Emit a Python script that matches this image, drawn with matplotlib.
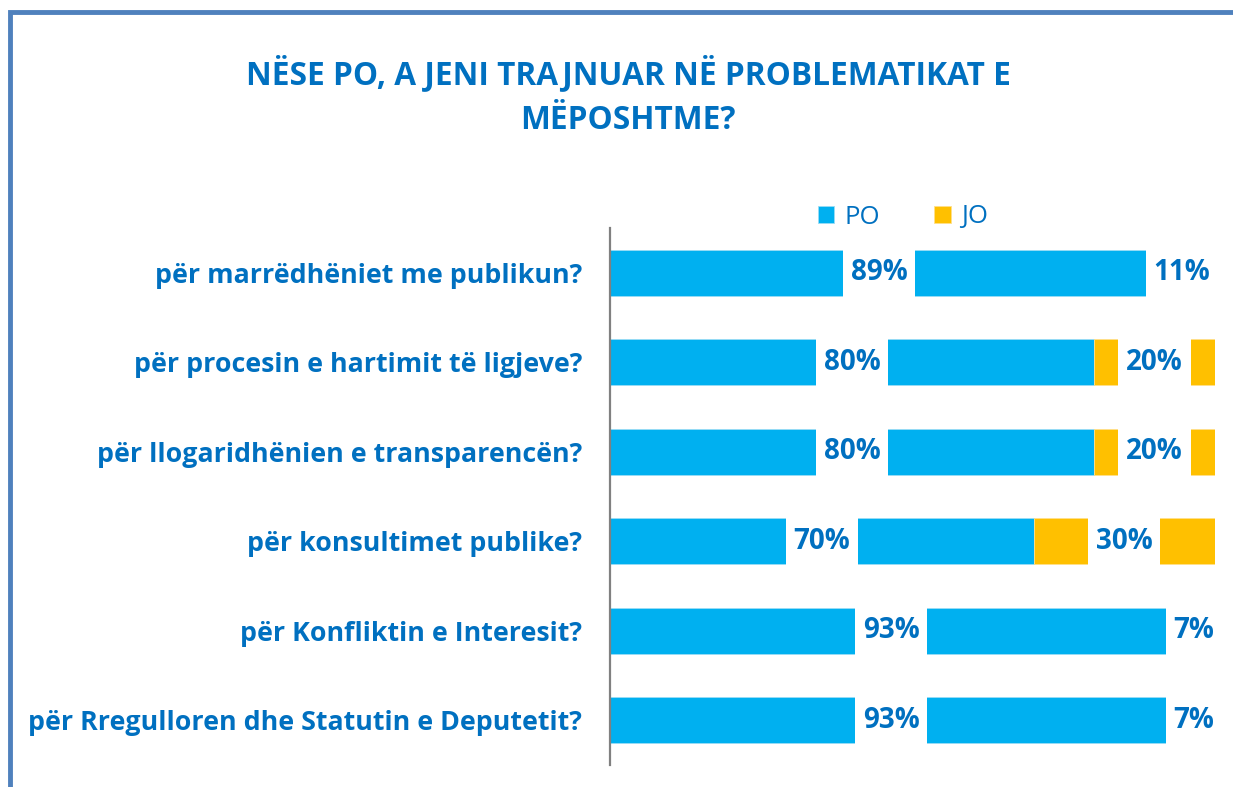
import numpy as np
import matplotlib
matplotlib.use("Agg")
import matplotlib.pyplot as plt
from matplotlib.path import Path
from matplotlib.patches import Rectangle

plt.rcParams['font.family'] = ['Open Sans', 'DejaVu Sans']

TITLE = "NËSE PO, A JENI TRAJNUAR NË PROBLEMATIKAT E\nMËPOSHTME?"
categories = [
    "për marrëdhëniet me publikun?",
    "për procesin e hartimit të ligjeve?",
    "për llogaridhënien e transparencën?",
    "për konsultimet publike?",
    "për Konfliktin e Interesit?",
    "për Rregulloren dhe Statutin e Deputetit?",
]
po = [89, 80, 80, 70, 93, 93]
jo = [11, 20, 20, 30, 7, 7]

BLUE = "#00B0F0"
YELLOW = "#FFC000"
TXT = "#0070C0"
FRAME = "#4F81BD"


def label_box(x0, y0, width, height, mutation_size):
    # white box: narrow sideways, tall enough to cut the bar through
    px, py = 0.28 * mutation_size, 0.4 * mutation_size
    x0, y0, x1, y1 = x0 - px, y0 - py, x0 + width + px, y0 + height + py
    return Path([(x0, y0), (x1, y0), (x1, y1), (x0, y1), (x0, y0)], closed=True)


fig = plt.figure(figsize=(12.33, 7.87), dpi=100)
fig.patches.append(Rectangle((10 / 1233, -0.1), 1.2, (787 - 12) / 787 + 0.1,
                             transform=fig.transFigure, fill=False,
                             edgecolor=FRAME, linewidth=3.5))
ax = fig.add_axes([610 / 1233, 22 / 787, 605 / 1233, 537 / 787])

y = np.arange(len(categories))
b1 = ax.barh(y, po, height=0.51, color=BLUE, edgecolor="#9ADCF5", linewidth=0.6, label="PO")
b2 = ax.barh(y, jo, left=po, height=0.51, color=YELLOW, edgecolor="#FFE08A", linewidth=0.6, label="JO")

box = dict(boxstyle=label_box, facecolor="white", edgecolor="none")
for bars, vals in ((b1, po), (b2, jo)):
    for r, v in zip(bars, vals):
        ax.text(r.get_x() + r.get_width() / 2, r.get_y() + r.get_height() / 2, f"{v}%",
                ha="center", va="center", fontsize=20, fontweight="bold",
                color=TXT, bbox=box, zorder=5, clip_on=False)

ax.set_xlim(0, 100)
ax.set_ylim(-0.5, len(categories) - 0.5)
ax.invert_yaxis()
ax.set_yticks(y, categories)
ax.tick_params(axis="y", length=0, pad=20, labelsize=19.3, labelcolor=TXT)
for t in ax.get_yticklabels():
    t.set_fontweight("bold")
ax.set_xticks([])
for s in ("top", "right", "bottom"):
    ax.spines[s].set_visible(False)
ax.spines["left"].set_color("#808080")
ax.spines["left"].set_linewidth(1.6)
ax.set_facecolor("none")

fig.text(628 / 1233, 1 - 96 / 787, TITLE, ha="center", va="center", fontsize=22.8,
         fontweight="bold", color=TXT, linespacing=1.45)

leg = fig.legend(handles=[b1, b2], labels=["PO", "JO"], loc="center",
                 bbox_to_anchor=(903 / 1233, 1 - 217 / 787), ncol=2, frameon=False,
                 fontsize=18.5, handlelength=0.65, handleheight=0.65, handletextpad=0.4,
                 columnspacing=2.1)
for t in leg.get_texts():
    t.set_color(TXT)

fig.savefig("out.png", dpi=100)
